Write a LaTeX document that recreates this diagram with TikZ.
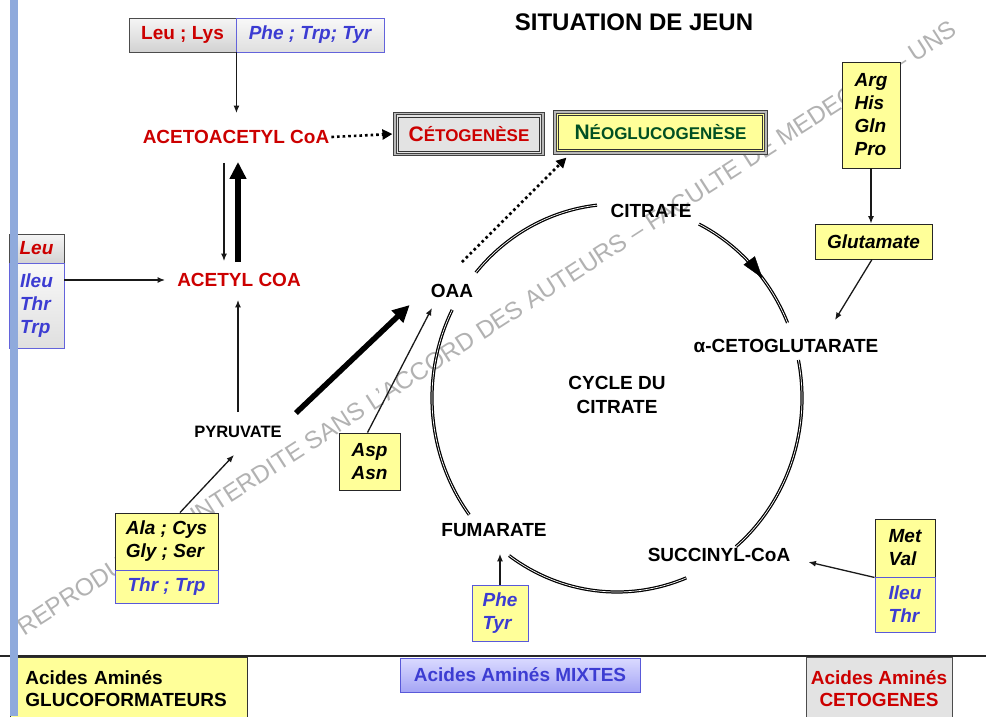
\documentclass[tikz,border=0pt]{standalone}
\usepackage{fontspec}
\setmainfont{Liberation Sans}
\usetikzlibrary{arrows.meta,decorations.markings,calc}
\definecolor{myred}{RGB}{204,0,0}
\definecolor{myblue}{RGB}{60,60,210}
\definecolor{myyellow}{RGB}{255,255,153}
\definecolor{mygreen}{RGB}{0,80,35}
\definecolor{barblue}{RGB}{143,170,220}
\definecolor{wmgray}{RGB}{178,178,178}
\definecolor{mixtop}{RGB}{218,218,255}
\definecolor{mixbot}{RGB}{165,165,245}
\newcommand{\fsz}[2]{\fontsize{#1}{#2}\selectfont}
\tikzset{
 lbl/.style={font=\fsz{19}{19}\bfseries, inner sep=2pt},
 redlbl/.style={lbl, text=myred},
 ybox/.style={draw=black!85, fill=myyellow, line width=0.9pt, font=\fsz{19}{23}\bfseries\itshape, align=left, inner sep=0pt},
 bybox/.style={ybox, draw=myblue!85, text=myblue},
 graybox/.style={draw=black!70, top color=gray!8, bottom color=gray!35, line width=0.9pt, inner sep=0pt, text=myred, font=\fsz{19}{19}\bfseries},
 pgraybox/.style={draw=myblue!80, top color=gray!5, bottom color=gray!25, line width=0.9pt, inner sep=0pt, text=myblue, font=\fsz{19}{23}\bfseries\itshape, align=left},
 thinarr/.style={draw=black!90, line width=1.3pt, -{Latex[length=7.5pt,width=6pt]}},
 thickarr/.style={draw=black, line width=5.5pt, -{Triangle[length=17pt,width=16pt]}},
 dotarr/.style={draw=black, line width=2.6pt, dash pattern=on 2.6pt off 3pt, -{Triangle[length=10pt,width=10pt]}},
 frame/.style={draw=black!75, line width=1.2pt, double=black!28, double distance=1.5pt},
 cyc/.style={draw=black, line width=1.25pt, double=white, double distance=0.7pt},
}
\begin{document}
\begin{tikzpicture}[x=1pt,y=1pt]
\useasboundingbox (0,0) rectangle (986,-716);
\fill[white] (0,0) rectangle (986,-716);

% watermark
\node[rotate=32.8, text=wmgray, font=\fsz{24.5}{24.5}] (wm) at (487,-328)
 {REPRODUCTION INTERDITE SANS L'ACCORD DES AUTEURS – FACULTE DE MEDECINE – UNS};

% citric acid cycle
\def\cx{617}\def\cy{-398}
\draw[cyc] ($(\cx,\cy)+(139.7:185 and 194)$) arc[start angle=139.7, end angle=96.2, x radius=185, y radius=194];
\draw[cyc] ($(\cx,\cy)+(63.7:185 and 194)$) arc[start angle=63.7, end angle=22.8, x radius=185, y radius=194];
\path[decorate, decoration={markings, mark=at position 0.62 with {\arrow{Triangle[length=22pt,width=14pt]}}}]
 ($(\cx,\cy)+(63.7:185 and 194)$) arc[start angle=63.7, end angle=22.8, x radius=185, y radius=194];
\draw[cyc] ($(\cx,\cy)+(11.3:185 and 194)$) arc[start angle=11.3, end angle=-50, x radius=185, y radius=194];
\draw[cyc] ($(\cx,\cy)+(-68:185 and 194)$) arc[start angle=-68, end angle=-125.7, x radius=185, y radius=194];
\draw[cyc] ($(\cx,\cy)+(217:185 and 194)$) arc[start angle=217, end angle=153, x radius=185, y radius=194];

% title
\node[font=\fsz{24}{24}\bfseries] (title) at (634,-22) {SITUATION DE JEUN};

% top boxes
\node[graybox, minimum width=107pt, minimum height=34pt] (lys) at (182.5,-35) {Leu ; Lys};
\node[pgraybox, minimum width=148pt, minimum height=34pt] (phe) at (310,-35) {Phe ; Trp; Tyr};

\node[redlbl] (acac) at (236,-137) {ACETOACETYL CoA};
\node[frame, fill=gray!22, minimum width=148pt, minimum height=41pt, inner sep=0pt] (ceto) at (469,-134)
 {\color{myred}\bfseries\fsz{21}{21}C\fsz{17}{17}ÉTOGENÈSE};
\draw[black!80, line width=0.6pt] ($(ceto.north west)+(4,-4)$) rectangle ($(ceto.south east)+(-4,4)$);
\node[frame, fill=myyellow, minimum width=211pt, minimum height=41pt, inner sep=0pt] (neo) at (660.5,-132.5)
 {\color{mygreen}\bfseries\fsz{21}{21}N\fsz{17}{17}ÉOGLUCOGENÈSE};
\draw[black!80, line width=0.6pt] ($(neo.north west)+(4,-4)$) rectangle ($(neo.south east)+(-4,4)$);

\node[redlbl] (acetyl) at (239,-280) {ACETYL COA};
\node[graybox, minimum width=55pt, minimum height=29pt, font=\fsz{19}{19}\bfseries\itshape] (leu) at (36.5,-248.5) {Leu};
\node[pgraybox, minimum width=55pt, minimum height=85pt] (ileu) at (36.5,-305.5) {Ileu\\Thr\\Trp};

\node[lbl, font=\fsz{16.5}{16.5}\bfseries] (pyr) at (238,-432) {PYRUVATE};
\node[ybox, minimum width=103pt, minimum height=57pt] (ala) at (166.5,-541.5) {Ala ; Cys\\Gly ; Ser};
\node[bybox, minimum width=103pt, minimum height=33pt] (thr) at (166.5,-586.5) {Thr ; Trp};
\node[ybox, minimum width=61pt, minimum height=57pt] (asp) at (369.5,-461.5) {Asp\\Asn};

\node[lbl] (oaa) at (452,-291) {OAA};
\node[lbl] (citrate) at (651,-211) {CITRATE};
\node[lbl] (akg) at (786,-346) {α-CETOGLUTARATE};
\node[lbl, align=center, font=\fsz{19}{24}\bfseries] (cycle) at (617,-395) {CYCLE DU\\CITRATE};
\node[lbl] (fum) at (494,-530) {FUMARATE};
\node[lbl] (succ) at (719,-555) {SUCCINYL-CoA};

\node[ybox, minimum width=58pt, minimum height=106pt] (arg) at (871,-115) {Arg\\His\\Gln\\Pro};
\node[ybox, minimum width=117pt, minimum height=35pt] (glut) at (873.5,-241.5) {Glutamate};
\node[ybox, minimum width=60pt, minimum height=58pt] (met) at (905,-548) {Met\\Val};
\node[bybox, minimum width=60pt, minimum height=55pt] (ileub) at (905,-604.5) {Ileu\\Thr};
\node[bybox, minimum width=56pt, minimum height=56pt] (phetyr) at (500,-613) {Phe\\Tyr};

% connectors
\draw[thinarr] (lys.south east) -- ($(lys.south east |- acac.north)+(0,15)$);
\draw[dotarr] (acac.east) -- ($(ceto.west)+(-2,0)$);
\draw[thickarr] ($(acetyl.north)+(-1,9)$) -- ($(acac.south)+(2,-16)$);
\draw[thinarr] ($(acac.south)+(-12,-17)$) -- ($(acetyl.north)+(-15,10)$);
\draw[thinarr] (ileu.east |- acetyl.west) -- ($(acetyl.west)+(-10,0)$);
\draw[thinarr] ($(pyr.north)+(0,12)$) -- ($(acetyl.south)+(-1,-11)$);
\draw[thickarr] ($(pyr.east)+(12,19)$) -- ($(oaa.west)+(-19,-14)$);
\draw[thinarr] ($(asp.north)+(-2,0)$) -- ($(oaa.south)+(-20,-8)$);
\draw[dotarr] ($(oaa.north)+(10,20)$) -- ($(neo.south west)+(12,-4)$);
\draw[thinarr] ($(ala.north)+(13.5,0)$) -- ($(pyr.south)+(-4,-15)$);
\draw[thinarr] (arg.south) -- (arg.south |- glut.north);
\draw[thinarr] ($(glut.south)+(-1.5,0)$) -- ($(akg.north)+(49,17)$);
\draw[thinarr] (met.south west) -- ($(succ.east)+(16,-7)$);
\draw[thinarr] (phetyr.north) -- ($(phetyr.north |- fum.south)+(0,-15)$);

% bottom legend
\draw[line width=2pt, black!85] (0,-656) -- (986,-656);
\node[draw=black!80, fill=myyellow, line width=0.9pt, anchor=north west, text width=207pt, inner xsep=15pt, inner ysep=0pt, minimum height=62pt, align=left, font=\fsz{19}{22}\bfseries] (gluco) at (10,-657) {Acides Aminés\\GLUCOFORMATEURS};
\node[draw=myblue!85, top color=mixtop, bottom color=mixbot, line width=0.9pt, minimum width=240pt, minimum height=34pt, inner sep=0pt, text=myblue, font=\fsz{19}{19}\bfseries] (mixtes) at (520,-675) {Acides Aminés MIXTES};
\node[draw=black!70, fill=gray!22, line width=0.9pt, anchor=north, minimum width=146pt, minimum height=62pt, inner sep=0pt, align=center, text=myred, font=\fsz{19}{22}\bfseries] (cetog) at (879,-657) {Acides Aminés\\CETOGENES};

% left bar
\fill[barblue] (10,0) rectangle (18,-716);
\end{tikzpicture}
\end{document}
